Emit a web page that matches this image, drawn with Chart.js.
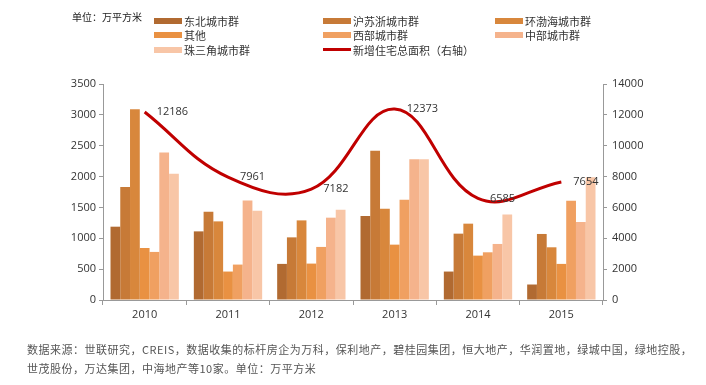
<!DOCTYPE html>
<html lang="zh-CN">
<head>
<meta charset="utf-8">
<title>新增住宅面积</title>
<script src="https://cdn.jsdelivr.net/npm/chart.js@4.4.1/dist/chart.umd.min.js"></script>
<style>
    body { margin: 0; background: #fff; font-family: "Noto Sans CJK SC", sans-serif; }
    #wrap { position: relative; width: 706px; height: 385px; }
    #unit { position: absolute; left: 72px; top: 9px; font-size: 10px; color: #222; }
    #legend { position: absolute; left: 154px; top: 14px; display: grid;
              grid-template-columns: 169px 172px 180px; grid-auto-rows: 14.3px; }
    .item { display: flex; align-items: center; font-size: 11px; color: #333; line-height: 14px; }
    .swatch { width: 28px; height: 6px; margin-right: 2px; }
    .swatch.line { height: 3px; }
    #source { position: absolute; left: 27px; top: 340px; font-size: 11px; color: #555;
              line-height: 19px; letter-spacing: 0.5px; }
</style>
</head>
<body>
<div id="wrap">
    <canvas id="myChart"></canvas>
    <div id="unit">单位：万平方米</div>
    <div id="legend"></div>
    <div id="source">数据来源：世联研究，CREIS，数据收集的标杆房企为万科，保利地产，碧桂园集团，恒大地产，华润置地，绿城中国，绿地控股，<br>世茂股份，万达集团，中海地产等10家。单位：万平方米</div>
</div>
<script>
const years = ['2010', '2011', '2012', '2013', '2014', '2015'];

const dongbei    = [1188, 1112, 585, 1361, 461, 251];
const husuzhe    = [1830, 1430, 1015, 2417, 1075, 1070];
const huanbohai  = [3091, 1274, 1290, 1479, 1237, 854];
const qita       = [843, 461, 590, 897, 719, 585];
const xibu       = [779, 574, 860, 1625, 773, 1608];
const zhongbu    = [2390, 1613, 1334, 2282, 908, 1264];
const zhusanjiao = [2045, 1447, 1463, 2282, 1387, 1990];
const xinzeng    = [12186, 7961, 7182, 12373, 6585, 7654];

const leftTicks = [0, 500, 1000, 1500, 2000, 2500, 3000, 3500];
const rightTicks = [0, 2000, 4000, 6000, 8000, 10000, 12000, 14000];

const tickFont = { family: 'Open Sans', size: 11 };

function bar(label, data, color) {
    return { type: 'bar', label: label, data: data, backgroundColor: color,
             yAxisID: 'y', order: 1, categoryPercentage: 0.82, barPercentage: 1.0 };
}

// labels for the line values, to the right of each point
const lineLabels = {
    id: 'lineLabels',
    afterDatasetsDraw(chart) {
        const meta = chart.getDatasetMeta(7);
        const ctx = chart.ctx;
        ctx.save();
        ctx.font = '11px "Open Sans"';
        ctx.fillStyle = '#333';
        ctx.textBaseline = 'middle';
        meta.data.forEach((pt, i) => {
            ctx.fillText(String(xinzeng[i]), pt.x + 12, pt.y);
        });
        ctx.restore();
    }
};

const ctx = document.getElementById('myChart').getContext('2d');
const chart = new Chart(ctx, {
    data: {
        labels: years,
        datasets: [
            bar('东北城市群', dongbei, '#B16A31'),
            bar('沪苏浙城市群', husuzhe, '#C77A37'),
            bar('环渤海城市群', huanbohai, '#D8873C'),
            bar('其他', qita, '#E99142'),
            bar('西部城市群', xibu, '#F0A061'),
            bar('中部城市群', zhongbu, '#F5B38C'),
            bar('珠三角城市群', zhusanjiao, '#F8C6A7'),
            {
                type: 'line',
                label: '新增住宅总面积（右轴）',
                data: xinzeng,
                yAxisID: 'y1',
                borderColor: '#C00000',
                backgroundColor: '#C00000',
                borderWidth: 3,
                pointRadius: 0,
                tension: 0.4,
                order: 0
            }
        ]
    },
    options: {
        responsive: true,
        maintainAspectRatio: false,
        animation: false,
        layout: { padding: { left: 0, right: 0, top: 84, bottom: 60 } },
        plugins: { legend: { display: false }, tooltip: { enabled: false } },
        scales: {
            x: {
                grid: { drawOnChartArea: false, drawTicks: true, tickLength: 5, color: '#999', offset: true },
                border: { color: '#999' },
                ticks: { font: tickFont, color: '#333', padding: 3 },
                afterFit: s => { s.height = 25; }
            },
            y: {
                position: 'left',
                min: 0, max: 3500,
                grid: { drawOnChartArea: false, drawTicks: true, tickLength: 4, color: '#999' },
                border: { color: '#999' },
                afterBuildTicks: s => { s.ticks = leftTicks.map(v => ({ value: v })); },
                ticks: { font: tickFont, color: '#333', padding: 3, callback: v => String(v) },
                afterFit: s => { s.width = 103; }
            },
            y1: {
                position: 'right',
                min: 0, max: 14000,
                grid: { drawOnChartArea: false, drawTicks: true, tickLength: 4, color: '#999' },
                border: { color: '#999' },
                afterBuildTicks: s => { s.ticks = rightTicks.map(v => ({ value: v })); },
                ticks: { font: tickFont, color: '#333', padding: 5, callback: v => String(v) },
                afterFit: s => { s.width = 103; }
            }
        }
    },
    plugins: [lineLabels]
});

// html legend, three columns, in the reference order
const legend = document.getElementById('legend');
chart.data.datasets.forEach(ds => {
    const item = document.createElement('div');
    item.className = 'item';
    const sw = document.createElement('span');
    sw.className = ds.type === 'line' ? 'swatch line' : 'swatch';
    sw.style.background = ds.type === 'line' ? ds.borderColor : ds.backgroundColor;
    item.appendChild(sw);
    item.appendChild(document.createTextNode(ds.label));
    legend.appendChild(item);
});
</script>
</body>
</html>
